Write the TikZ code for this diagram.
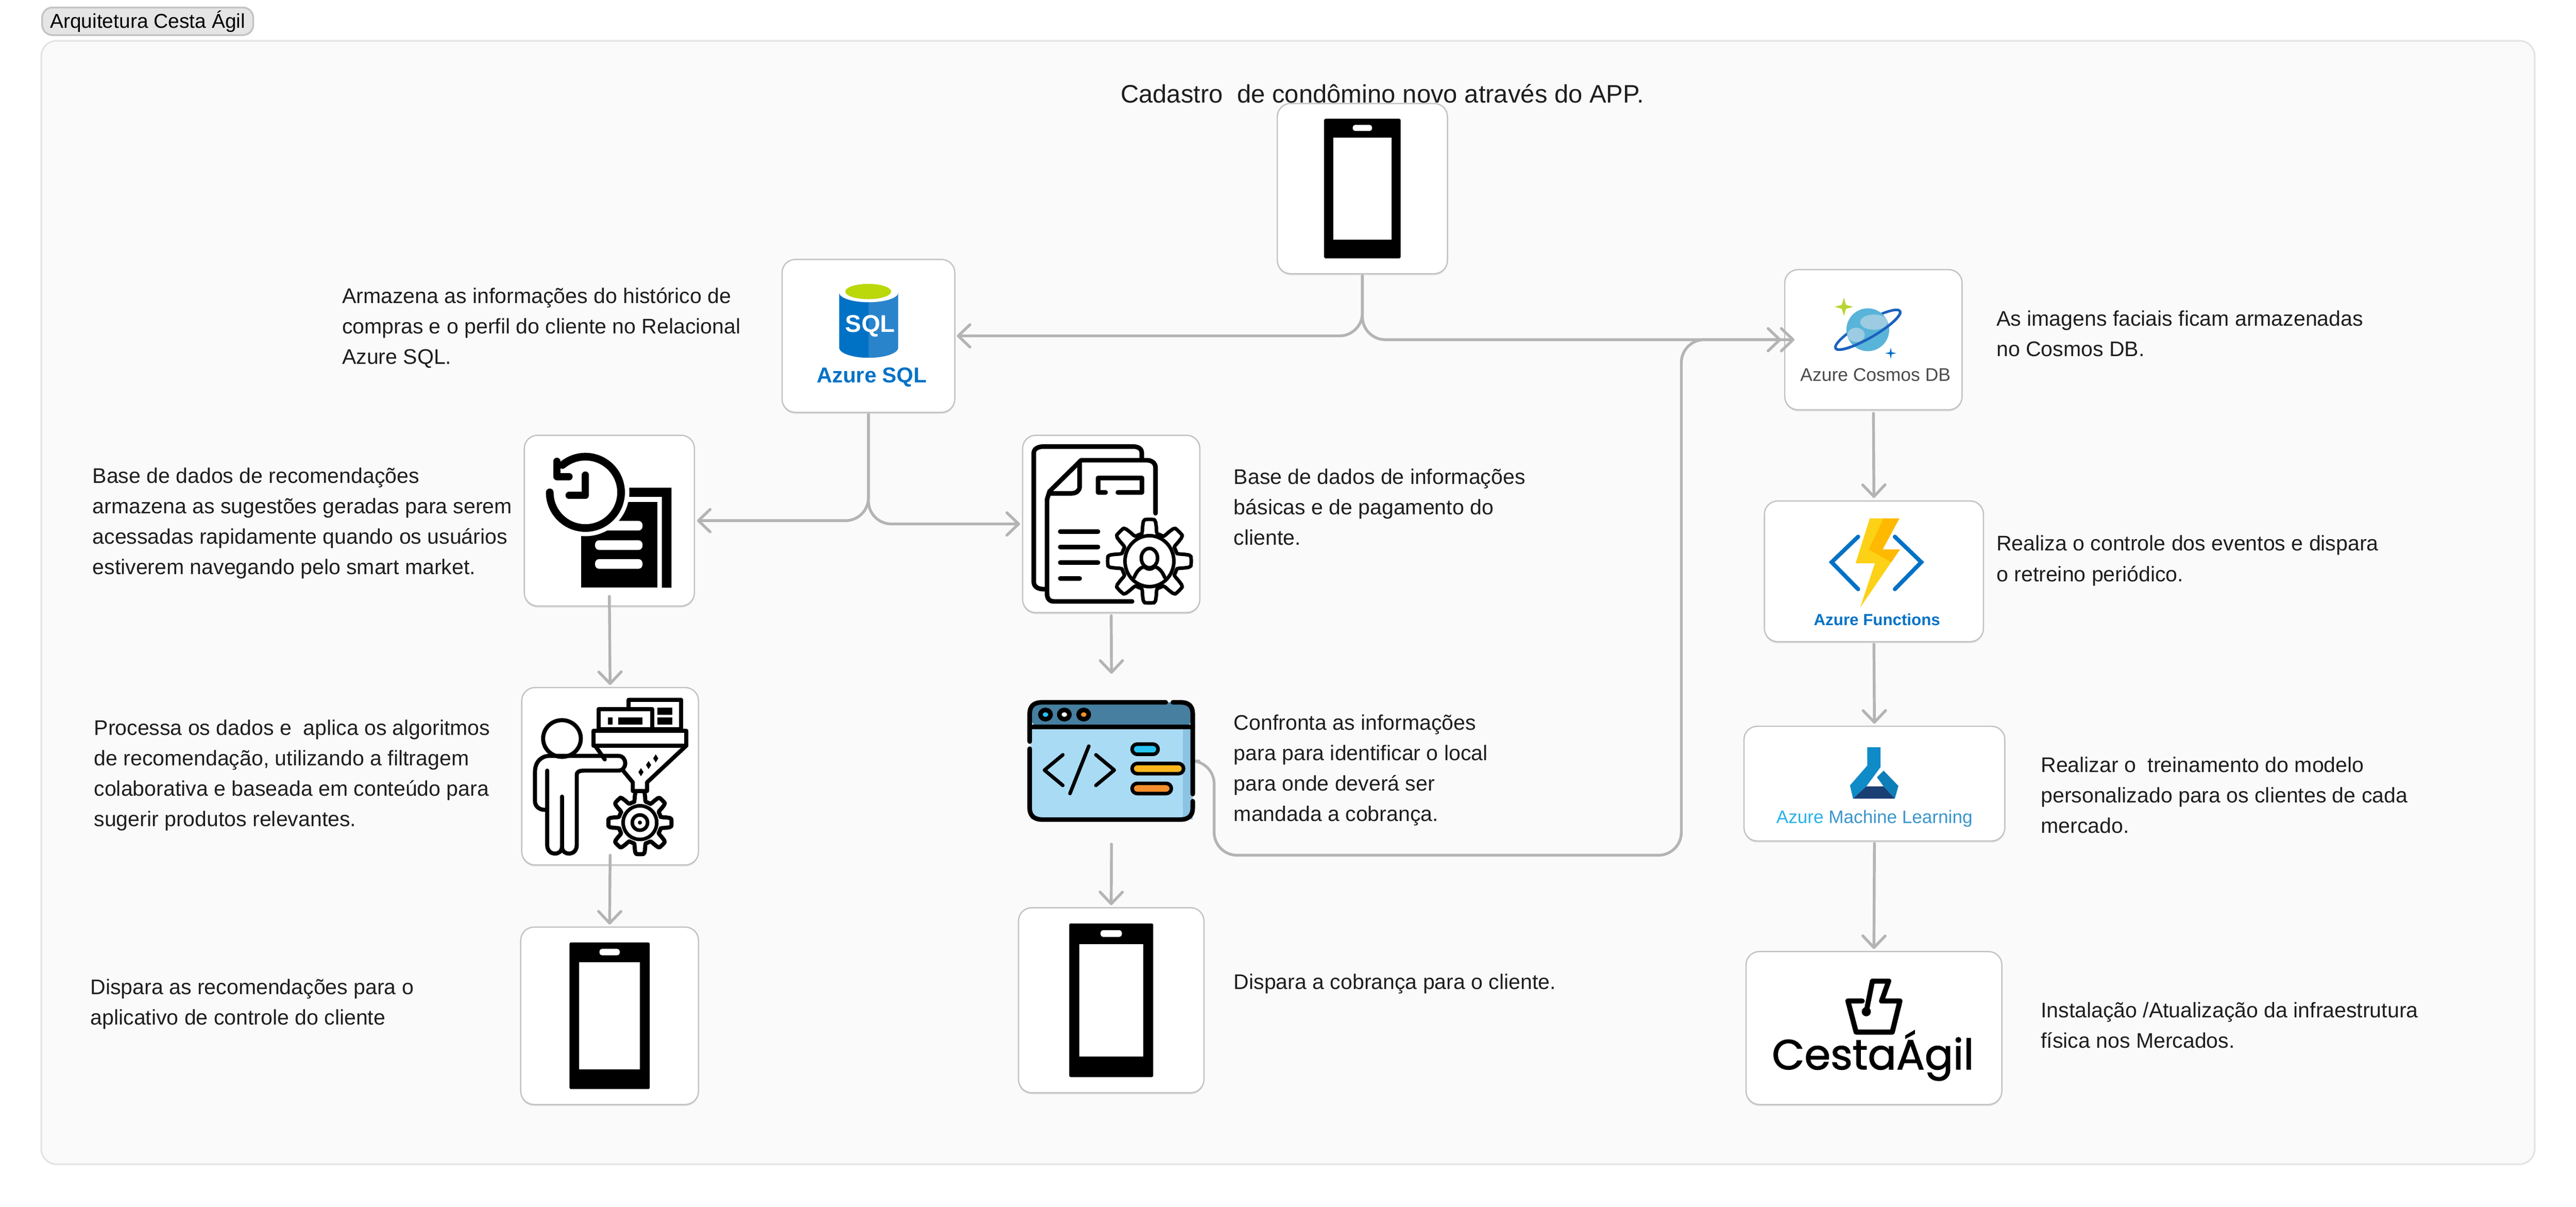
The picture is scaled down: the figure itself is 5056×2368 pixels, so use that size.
\documentclass[tikz,border=0pt]{standalone}
\usepackage{fontspec}
\setmainfont{Liberation Sans}
\newfontfamily\logofont[FakeBold=1.6]{Poppins}
\usetikzlibrary{arrows.meta,shadows}
\definecolor{edgegray}{HTML}{B4B4B4}
\definecolor{cardline}{HTML}{C2C2C2}
\definecolor{azureblue}{HTML}{0072C6}
\definecolor{inktext}{HTML}{1E1E1E}
\definecolor{sqlright}{HTML}{2A84CB}
\definecolor{sqlgreen}{HTML}{BAD80A}
\definecolor{winbody}{HTML}{A9DBF5}
\definecolor{winstrip}{HTML}{8CC3E2}
\definecolor{wintitle}{HTML}{467FA0}
\definecolor{dotcyan}{HTML}{27C4F4}
\definecolor{dotyellow}{HTML}{FDB71C}
\definecolor{dotorange}{HTML}{F58E2C}
\definecolor{cosmosring}{HTML}{1B62BE}
\definecolor{cosmosball}{HTML}{59B4D9}
\definecolor{cosmoscloud}{HTML}{9CCBE2}
\definecolor{cosmosstar}{HTML}{B8D432}
\definecolor{boltlight}{HTML}{FCD116}
\definecolor{boltdark}{HTML}{FFB900}
\definecolor{flaskmid}{HTML}{0F8BC7}
\definecolor{flaskside}{HTML}{0D7FB8}
\definecolor{flaskdark}{HTML}{1A3F73}
\definecolor{mlazure}{HTML}{27B2E8}
\definecolor{mlrest}{HTML}{3B96CC}
\tikzstyle{card}=[draw=cardline,line width=0.025cm,fill=white,rounded corners=0.26cm,inner sep=0pt,outer sep=0pt,
  drop shadow={shadow xshift=0cm,shadow yshift=-0.03cm,opacity=0.10,fill=black}]
\tikzstyle{arr}=[draw=edgegray,line width=0.055cm,line cap=round,-{Straight Barb[length=0.23cm,width=0.44cm,round]}]
\tikzstyle{arrcurve}=[arr,rounded corners=0.45cm]
\tikzstyle{note}=[anchor=west,align=left,inner sep=0pt,text=inktext,font=\fontsize{11.8}{17}\selectfont]
\tikzstyle{ink}=[draw=black,line width=0.09cm,line cap=round,line join=round]
\tikzset{
  phoneicon/.pic={
    \fill[black,rounded corners=0.03cm] (-75,-137) rectangle (75,137);
    \fill[white] (-57,-100) rectangle (57,100);
    \fill[white,rounded corners=0.05cm] (-19,-125) rectangle (19,-113);
  }
}
\newcommand{\gearicon}[4]{
  \begin{scope}[shift={(#1,#2)}]
    \draw[ink,fill=white,line width=#4] plot[domain=0:358,samples=160]
      (\x:{#3*(0.84+0.16*max(min(2.2*cos(8*\x),1),-1))}) -- cycle;
  \end{scope}
}
\begin{document}
\begin{tikzpicture}[x=0.01cm,y=-0.01cm]
    \useasboundingbox[fill=white] (0,0) rectangle (5056,2368);

    % frame and tab
    \node[draw=black!10,line width=0.035cm,fill=black!2,rounded corners=0.3cm,minimum width=48.91cm,minimum height=22.03cm,inner sep=0pt,outer sep=0pt,anchor=north west] (frame) at (81,80) {};
    \node[draw=black!23,line width=0.035cm,fill=black!10,rounded corners=0.2cm,minimum width=4.14cm,minimum height=0.54cm,inner sep=0pt,anchor=north west,font=\fontsize{11.2}{12}\selectfont] (tab) at (81,13) {Arquitetura Cesta Ágil};

    \foreach \pos/\name/\w/\h in {{(2674,370)/app/334/334},{(1704.5,659)/sql/339/300},
    {(1196,1021.5)/hist/334/335},{(2181,1028)/doc/348/348},{(1197.5,1523)/funnel/347/348},
    {(2181,1962.5)/mobcob/364/363},{(1196.5,1993)/mobrec/349/348},{(3677,666.5)/cosmos/348/275},
    {(3678,1121)/func/430/276},{(3679,1537.5)/ml/512/225},{(3678,2017)/cesta/502/300}}
        \node[card,minimum width=\w*0.01cm,minimum height=\h*0.01cm] (\name) at \pos {};
    \node[inner sep=0pt,outer sep=0pt,minimum width=3.29cm,minimum height=2.38cm] (code) at (2181.5,1493) {};

    % texts
    \node[inner sep=0pt,text=inktext,font=\fontsize{14.1}{18}\selectfont] (titulo) at (2713,184) {Cadastro\ \ de condômino novo através do APP.};
    \foreach \pos/\name/\val in {
    {(671,643)/tsql/{Armazena as informações do histórico de\\compras e o perfil do cliente no Relacional\\Azure SQL.}},
    {(181,1027)/thist/{Base de dados de recomendações\\armazena as sugestões geradas para serem\\acessadas rapidamente quando os usuários\\estiverem navegando pelo smart market.}},
    {(2421,995)/tdoc/{Base de dados de informações\\básicas e de pagamento do\\cliente.}},
    {(2421,1511)/tcode/{Confronta as informações\\para para identificar o local\\para onde deverá ser\\mandada a cobrança.}},
    {(184,1521)/tfunnel/{Processa os dados e\ \ aplica os algoritmos\\de recomendação, utilizando a filtragem\\colaborativa e baseada em conteúdo para\\sugerir produtos relevantes.}},
    {(177,1970)/tmobrec/{Dispara as recomendações para o\\aplicativo de controle do cliente}},
    {(2421,1930)/tmobcob/{Dispara a cobrança para o cliente.}},
    {(3918,655)/tcosmos/{As imagens faciais ficam armazenadas\\no Cosmos DB.}},
    {(3918,1100)/tfunc/{Realiza o controle dos eventos e dispara\\o retreino periódico.}},
    {(4005,1560)/tml/{Realizar o\ \ treinamento do modelo\\personalizado para os clientes de cada\\mercado.}},
    {(4005,2012)/tcesta/{Instalação /Atualização da infraestrutura\\física nos Mercados.}}}
        \node[note] (\name) at \pos {\val};

    % connectors
    \coordinate (codeA) at (2383,1678);
    \coordinate (codeB) at (3300,1678);
    \path[arrcurve] ([yshift=-0.04cm]app.south) |- ([xshift=0.04cm]sql.east);
    \path[arrcurve] ([yshift=-0.04cm]app.south) |- ([xshift=-0.07cm]cosmos.west);
    \path[arrcurve] ([yshift=-0.04cm]sql.south) |- ([xshift=0.05cm]hist.east);
    \path[arrcurve] ([yshift=-0.04cm]sql.south) |- ([xshift=-0.05cm]doc.west);
    \path[arrcurve] ([xshift=0.07cm]code.east) -| (codeA) -- (codeB) |- ([xshift=0.19cm]cosmos.west);
    \path[arr] ([yshift=0.19cm]hist.south) -- ([yshift=0.05cm]funnel.north);
    \path[arr] ([yshift=0.19cm]funnel.south) -- ([yshift=0.05cm]mobrec.north);
    \path[arr] ([yshift=-0.06cm]doc.south) -- ([yshift=0.52cm]code.north);
    \path[arr] ([yshift=-0.44cm]code.south) -- ([yshift=0.05cm]mobcob.north);
    \path[arr] ([yshift=-0.07cm]cosmos.south) -- ([yshift=0.06cm]func.north);
    \path[arr] ([yshift=-0.05cm]func.south) -- ([yshift=0.05cm]ml.north);
    \path[arr] ([yshift=-0.05cm]ml.south) -- ([yshift=0.05cm]cesta.north);

    % phones
    \pic at (app) {phoneicon};
    \pic[scale=1.1] at (mobcob) {phoneicon};
    \pic[scale=1.05] at (mobrec) {phoneicon};

    % azure sql
    \fill[azureblue] (1647,574) -- (1647,682) arc[start angle=180,end angle=90,x radius=58,y radius=20] -- (1705,574) -- cycle;
    \fill[sqlright] (1763,574) -- (1763,682) arc[start angle=0,end angle=90,x radius=58,y radius=20] -- (1705,574) -- cycle;
    \fill[white] (1705,574) ellipse [x radius=58,y radius=19];
    \fill[sqlgreen] (1704,572) ellipse [x radius=45,y radius=15];
    \node[inner sep=0pt,text=white,font=\fontsize{13.5}{14}\selectfont\bfseries] (sqlword) at (1708,640) {SQL};
    \node[inner sep=0pt,text=azureblue,font=\fontsize{12}{14}\selectfont\bfseries] (sqllabel) at (1711,740) {Azure SQL};

    % historico
    \fill[black] (1235,957) -- (1318,957) -- (1318,1153) -- (1299,1153) -- (1299,975) -- (1235,975) -- cycle;
    \fill[black] (1141,985) rectangle (1290,1153);
    \foreach \y in {1022,1060,1097}
        \fill[white,rounded corners=0.08cm] (1168,\y) rectangle (1261,\y+19);
    \fill[white] (1149,966) circle (86);
    \draw[ink,line width=0.15cm] (1079,966) arc[start angle=180,end angle=-130,radius=70];
    \draw[ink,line width=0.14cm] (1093,905) -- (1093,935) -- (1117,935);
    \draw[ink,line width=0.14cm] (1149,932) -- (1149,972) -- (1117,972);

    % documento
    \draw[ink] (2050,1156) .. controls (2035,1156) and (2029,1150) .. (2029,1141) -- (2029,889) .. controls (2029,880) and (2038,876) .. (2050,876) -- (2222,876) .. controls (2234,876) and (2241,880) .. (2241,889) -- (2241,900);
    \draw[ink] (2268,1007) -- (2268,918) .. controls (2268,908) and (2260,903) .. (2251,903) -- (2122,903) -- (2060,964) -- (2055,980) -- (2055,1164) .. controls (2055,1175) and (2060,1180) .. (2069,1180) -- (2222,1180);
    \draw[ink] (2119,906) -- (2119,955) .. controls (2119,963) and (2112,968) .. (2103,968) -- (2060,968);
    \draw[ink] (2170,966) -- (2155,966) -- (2155,938) -- (2241,938) -- (2241,966) -- (2194,966);
    \foreach \y/\xb in {1043/2155,1073/2155,1104/2155,1135/2119}
        \draw[ink] (2081,\y) -- (\xb,\y);
    \gearicon{2256}{1101}{82}{0.07cm}
    \draw[ink,line width=0.07cm] (2256,1101) ellipse [x radius=48,y radius=50];
    \draw[ink,line width=0.07cm] (2256,1095) ellipse [x radius=16,y radius=19];
    \draw[ink,line width=0.07cm] (2226,1133) .. controls (2232,1118) and (2240,1113) .. (2246,1112) .. controls (2252,1118) and (2260,1118) .. (2266,1112) .. controls (2272,1113) and (2280,1118) .. (2286,1133);

    % funil
    \draw[ink,line width=0.08cm,fill=white] (1234,1431) -- (1234,1373) -- (1337,1373) -- (1337,1431) -- cycle;
    \draw[ink,line width=0.08cm,fill=white] (1175,1431) -- (1175,1391) -- (1280,1391) -- (1280,1431) -- cycle;
    \fill[black] (1193,1408) rectangle (1202,1422);
    \fill[black] (1213,1408) rectangle (1261,1422);
    \fill[black] (1290,1388) rectangle (1320,1403);
    \fill[black] (1290,1408) rectangle (1320,1422);
    \draw[ink,line width=0.08cm] (1165,1434) rectangle (1347,1463);
    \draw[ink,line width=0.08cm] (1168,1463) -- (1187,1490);
    \draw[ink,line width=0.08cm] (1347,1463) -- (1270,1535) -- (1270,1552) -- (1242,1552) -- (1242,1535) -- (1223,1512);
    \foreach \x/\y in {1287/1488,1273/1501,1258/1515}
        \fill[black] (\x,\y-8) -- (\x+5,\y) -- (\x,\y+8) -- (\x-5,\y) -- cycle;
    \draw[ink,line width=0.08cm] (1103,1449) ellipse [x radius=37,y radius=36];
    \draw[ink,line width=0.08cm] (1070,1589) .. controls (1056,1589) and (1050,1580) .. (1050,1572) -- (1050,1515) .. controls (1050,1495) and (1062,1483) .. (1079,1483) -- (1213,1483) .. controls (1232,1483) and (1232,1512) .. (1213,1512) -- (1146,1512) .. controls (1136,1512) and (1132,1515) .. (1132,1520) -- (1132,1658) .. controls (1132,1680) and (1103,1680) .. (1103,1661) .. controls (1103,1680) and (1074,1680) .. (1074,1658) -- (1074,1512);
    \draw[ink,line width=0.08cm] (1103,1563) -- (1103,1661);
    \gearicon{1256}{1614}{62}{0.08cm}
    \draw[ink,line width=0.07cm] (1256,1614) circle (33);
    \draw[ink,line width=0.07cm] (1256,1614) circle (15);
    \fill[black] (1256,1614) circle (4);

    % janela de codigo
    \fill[winbody] (2022,1426) rectangle (2341,1608);
    \fill[winstrip] (2322,1426) rectangle (2341,1608);
    \fill[wintitle,rounded corners=0.2cm] (2022,1378) rectangle (2341,1426);
    \draw[ink] (2021,1455) -- (2021,1400) .. controls (2021,1385) and (2030,1378) .. (2045,1378) -- (2288,1378);
    \draw[ink] (2302,1378) -- (2318,1378) .. controls (2332,1378) and (2341,1385) .. (2341,1400) -- (2341,1558);
    \draw[ink] (2341,1572) -- (2341,1586) .. controls (2341,1600) and (2332,1608) .. (2318,1608) -- (2045,1608) .. controls (2030,1608) and (2021,1600) .. (2021,1586) -- (2021,1469);
    \draw[ink] (2021,1426) -- (2341,1426);
    \foreach \x/\c in {2052/dotcyan,2089/white,2127/dotorange}
        \draw[ink,fill=\c] (\x,1402) ellipse [x radius=10,y radius=9];
    \draw[ink,line width=0.07cm] (2086,1481) -- (2050,1511) -- (2086,1541);
    \draw[ink,line width=0.07cm] (2137,1464) -- (2100,1557);
    \draw[ink,line width=0.07cm] (2151,1481) -- (2187,1511) -- (2151,1541);
    \foreach \y/\xb/\c in {1470/2277/dotcyan,1508/2327/dotyellow,1547/2303/dotorange}
        \draw[ink,line width=0.07cm,fill=\c,rounded corners=0.1cm] (2222,\y-10) rectangle (\xb-4,\y+10);

    % cosmos
    \begin{scope}[shift={(3666,647)},rotate=30]
        \draw[cosmosring,line width=0.05cm] (0,0) ellipse [x radius=73,y radius=16];
    \end{scope}
    \fill[cosmosball] (3666,647) circle (42);
    \fill[cosmoscloud] (3678,632) ellipse [x radius=27,y radius=15];
    \fill[cosmoscloud] (3643,657) ellipse [x radius=17,y radius=14];
    \begin{scope}[shift={(3666,647)},rotate=30]
        \draw[cosmosring,line width=0.05cm] (73,0) arc[start angle=0,end angle=180,x radius=73,y radius=16];
    \end{scope}
    \fill[cosmosstar] (3619,584) -- (3623,598) -- (3637,602) -- (3623,606) -- (3619,620) -- (3615,606) -- (3601,602) -- (3615,598) -- cycle;
    \fill[azureblue] (3711,682) -- (3713,691) -- (3722,693) -- (3713,695) -- (3711,704) -- (3709,695) -- (3700,693) -- (3709,691) -- cycle;
    \node[inner sep=0pt,text=black!70,font=\fontsize{10.2}{13}\selectfont] (cosmoslabel) at (3681,735) {Azure Cosmos DB};

    % functions
    \draw[azureblue,line width=0.08cm,line cap=round,line join=miter] (3647,1053) -- (3595,1103) -- (3647,1156);
    \draw[azureblue,line width=0.08cm,line cap=round,line join=miter] (3719,1053) -- (3771,1103) -- (3719,1156);
    \fill[boltlight] (3670,1017) -- (3728,1017) -- (3695,1078) -- (3729,1078) -- (3651,1192) -- (3680,1105) -- (3642,1105) -- cycle;
    \fill[boltdark] (3697,1017) -- (3728,1017) -- (3695,1078) -- (3729,1078) -- (3712,1103) -- (3668,1078) -- cycle;
    \node[inner sep=0pt,text=azureblue,font=\fontsize{9}{11}\selectfont\bfseries] (funclabel) at (3684,1216) {Azure Functions};

    % machine learning
    \fill[flaskmid] (3665,1466) -- (3691,1466) -- (3691,1505) -- (3663,1543) -- (3637,1567) -- (3631,1541) -- (3665,1502) -- cycle;
    \fill[flaskside] (3697,1512) -- (3726,1542) -- (3719,1567) -- (3697,1543) -- (3684,1525) -- cycle;
    \fill[flaskdark] (3663,1543) -- (3697,1543) -- (3719,1567) -- (3637,1567) -- cycle;
    \node[inner sep=0pt,text=mlazure,font=\fontsize{10.1}{12}\selectfont] (mllabel) at (3679,1606) {Azure {\color{mlrest}Machine Learning}};

    % cesta agil
    \draw[ink,line width=0.1cm] (3655,1964) -- (3627,1964) -- (3643,2025) -- (3714,2025) -- (3729,1964) -- (3693,1964) -- (3707,1925) -- (3675,1925) -- (3663,1985);
    \fill[black] (3663,1985) circle (9);
    \node[inner sep=0pt,font=\logofont\fontsize{23.5}{26}\selectfont] (cestalabel) at (3676,2071) {CestaÁgil};
\end{tikzpicture}
\end{document}
